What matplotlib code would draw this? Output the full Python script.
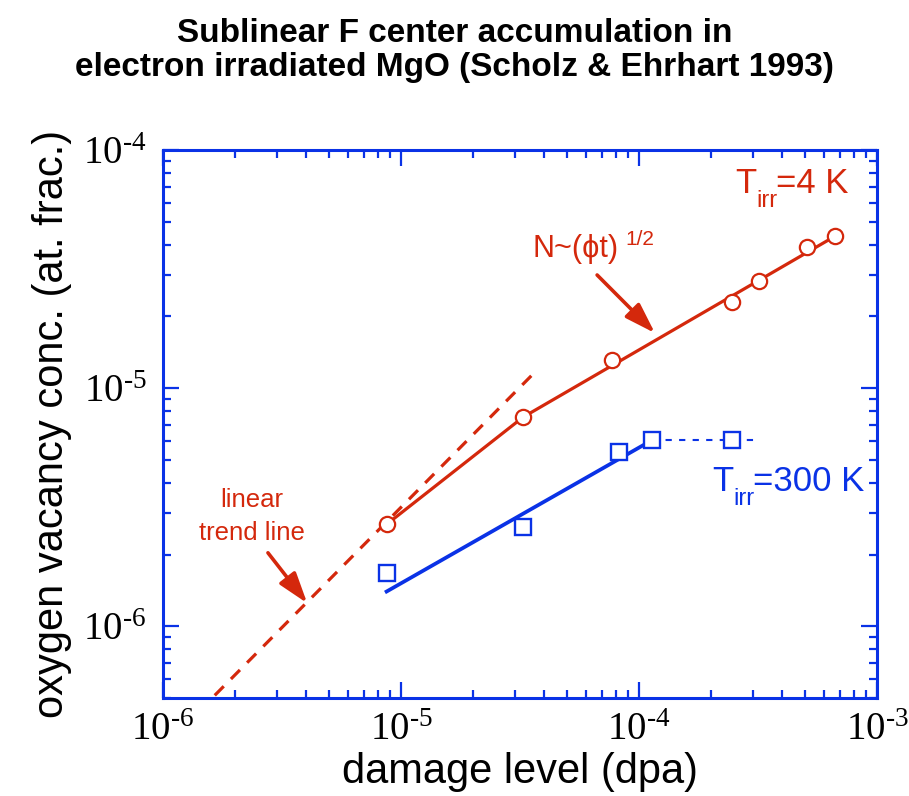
import matplotlib
matplotlib.use('Agg')
import matplotlib.pyplot as plt
from matplotlib.ticker import LogLocator, NullFormatter, FuncFormatter
import numpy as np

RED = '#d4280c'
BLUE = '#0a32e6'

# T_irr = 4 K data (damage in dpa, concentration in at. frac.)
dose_4K = [8.7e-6, 3.26e-5, 7.7e-5, 2.46e-4, 3.19e-4, 5.08e-4, 6.67e-4]
conc_4K = [2.68e-6, 7.56e-6, 1.31e-5, 2.30e-5, 2.82e-5, 3.91e-5, 4.35e-5]

# T_irr = 300 K data
dose_300K = [8.7e-6, 3.26e-5, 8.24e-5, 1.135e-4, 2.46e-4]
conc_300K = [1.67e-6, 2.61e-6, 5.38e-6, 6.05e-6, 6.05e-6]

# guide lines
fit_4K_x = [8.7e-6, 3.26e-5, 6.67e-4]
fit_4K_y = [2.68e-6, 7.56e-6, 4.35e-5]
linear_x = [1.65e-6, 3.66e-5]
linear_y = [5.13e-7, 1.17e-5]
fit_300K_x = [8.7e-6, 1.135e-4]
fit_300K_y = [1.40e-6, 6.05e-6]
flat_300K_x = [1.135e-4, 3.13e-4]
flat_300K_y = [6.05e-6, 6.05e-6]

fig = plt.figure(figsize=(9.09, 7.96), dpi=100)
ax = fig.add_axes([0.1793, 0.1231, 0.7855, 0.6884])

ax.plot(linear_x, linear_y, color=RED, lw=2.3, dashes=(4, 3.2))
ax.plot(fit_4K_x, fit_4K_y, color=RED, lw=2.3)
ax.plot(fit_300K_x, fit_300K_y, color=BLUE, lw=2.7)
ax.plot(flat_300K_x, flat_300K_y, color=BLUE, lw=1.5, dashes=(3, 3.5))
ax.plot(dose_4K, conc_4K, 'o', ms=11, mfc='white', mec=RED, mew=1.6, zorder=5)
ax.plot(dose_300K, conc_300K, 's', ms=11, mfc='white', mec=BLUE, mew=1.7, zorder=5)

ax.set_xscale('log')
ax.set_yscale('log')
ax.set_xlim(1e-6, 1e-3)
ax.set_ylim(5e-7, 1e-4)


def pow10(v, pos):
    return r'$\mathdefault{10^{‐%d}}$' % round(-np.log10(v))


for s in ax.spines.values():
    s.set_color(BLUE)
    s.set_linewidth(2.2)
for a in (ax.xaxis, ax.yaxis):
    a.set_major_locator(LogLocator(base=10, numticks=10))
    a.set_major_formatter(FuncFormatter(pow10))
    a.set_minor_locator(LogLocator(base=10, subs=range(2, 10), numticks=20))
    a.set_minor_formatter(NullFormatter())
ax.tick_params(which='both', direction='in', top=True, right=True, color=BLUE, width=1.6)
ax.tick_params(which='major', length=11.5)
ax.tick_params(which='minor', length=5.8)
ax.tick_params(axis='x', which='major', pad=10, labelsize=28)
ax.tick_params(axis='y', which='major', pad=12, labelsize=28)
for lbl in ax.get_xticklabels() + ax.get_yticklabels():
    lbl.set_fontfamily(['Liberation Serif', 'DejaVu Serif'])

ax.set_xlabel('damage level (dpa)', fontsize=30, family='Liberation Sans', labelpad=2)
ax.set_ylabel('oxygen vacancy conc. (at. frac.)', fontsize=30, family='Liberation Sans', labelpad=8)

fig.text(0.5, 0.978, 'Sublinear F center accumulation in\nelectron irradiated MgO (Scholz & Ehrhart 1993)',
         ha='center', va='top', fontsize=24, fontweight='bold', linespacing=1.15,
         family='Liberation Sans')

txt = dict(family=['Liberation Sans', 'DejaVu Sans'], transform=ax.transAxes, va='baseline')
ax.text(0.517, 0.805, 'N~(ϕt)', color=RED, fontsize=22, **txt)
ax.text(0.647, 0.827, '1/2', color=RED, fontsize=15, **txt)

ax.text(0.801, 0.9215, 'T', color=RED, fontsize=25, **txt)
ax.text(0.8305, 0.896, 'irr', color=RED, fontsize=17, **txt)
ax.text(0.8585, 0.9215, '=4 K', color=RED, fontsize=25, **txt)

ax.text(0.769, 0.3777, 'T', color=BLUE, fontsize=25, **txt)
ax.text(0.7985, 0.352, 'irr', color=BLUE, fontsize=17, **txt)
ax.text(0.826, 0.3777, '=300 K', color=BLUE, fontsize=25, **txt)

ax.text(0.125, 0.349, 'linear', color=RED, fontsize=18.5, ha='center', **txt)
ax.text(0.125, 0.288, 'trend line', color=RED, fontsize=18.5, ha='center', **txt)

arrow = dict(arrowstyle='-|>,head_length=0.55,head_width=0.18', color=RED, lw=2.6,
             mutation_scale=34, shrinkA=0, shrinkB=0)
ax.annotate('', xy=(0.689, 0.666), xytext=(0.608, 0.772),
            xycoords='axes fraction', textcoords='axes fraction', arrowprops=arrow)
ax.annotate('', xy=(0.202, 0.173), xytext=(0.147, 0.265),
            xycoords='axes fraction', textcoords='axes fraction', arrowprops=arrow)

fig.savefig('out.png', dpi=100)
